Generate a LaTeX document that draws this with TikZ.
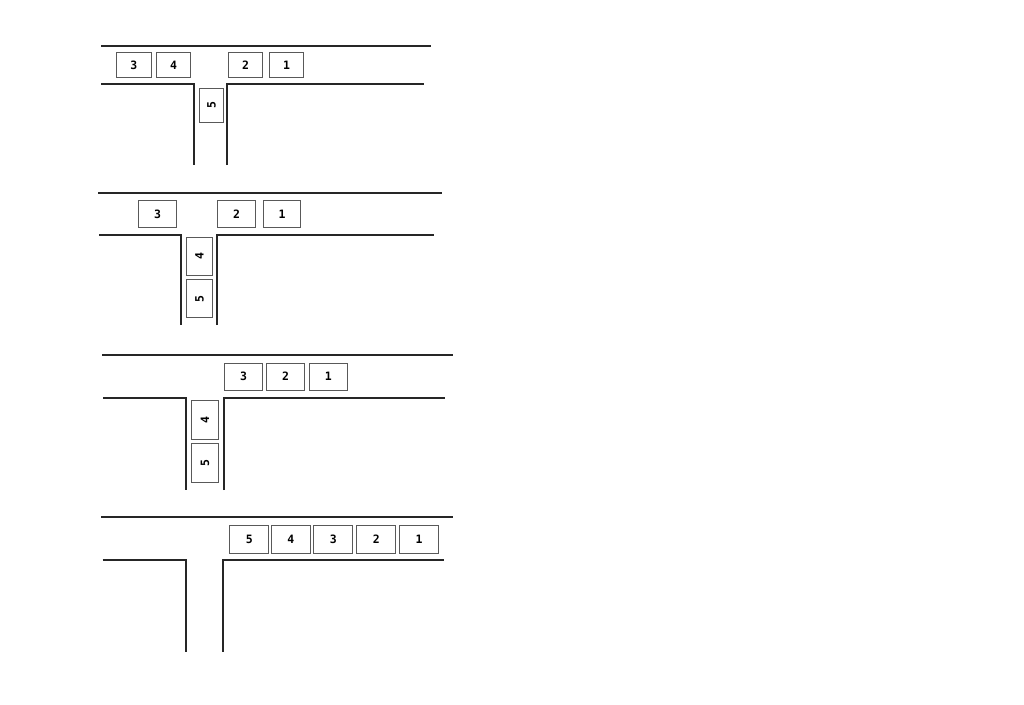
\documentclass[tikz,border=0pt]{standalone}
\usepackage{fontspec}
\setmonofont{DejaVu Sans Mono}
\begin{document}
\begin{tikzpicture}[x=1pt,y=-1pt,
  road/.style={draw=black!85,line width=1.7pt,line join=miter},
  car/.style={draw=black!65,line width=1pt,fill=white,inner sep=0pt,font=\ttfamily\bfseries\fontsize{11.5}{11.5}\selectfont},
  carA/.style={car,minimum width=34.4pt,minimum height=25pt},
  carAv/.style={car,minimum width=34.4pt,minimum height=24.4pt,rotate=90},
  carB/.style={car,minimum width=37.6pt,minimum height=26.6pt},
  carBv/.style={car,minimum width=38pt,minimum height=26.4pt,rotate=90},
  carC/.style={car,minimum width=38.5pt,minimum height=27.3pt},
  carCv/.style={car,minimum width=38.3pt,minimum height=27.4pt,rotate=90},
  carD/.style={car,minimum width=39pt,minimum height=28pt}]
\useasboundingbox (0,0) rectangle (1024,704);
% ---------- diagram 1
\draw[road] (101,46) -- (431,46);
\draw[road] (101,84) -- (194.3,84) -- (194.3,165);
\draw[road] (227,165) -- (227,84) -- (423.7,84);
\node[carA] (a3) at (133.85,65) {3};
\node[carA] (a4) at (173.65,65) {4};
\node[carA] (a2) at (245.5,65) {2};
\node[carA] (a1) at (286.65,65) {1};
\node[carAv] (a5) at (211.5,105.5) {5};
% ---------- diagram 2
\draw[road] (98.3,193) -- (442.3,193);
\draw[road] (99.3,235) -- (180.7,235) -- (180.7,325);
\draw[road] (217,325) -- (217,235) -- (434.3,235);
\node[carB] (b3) at (157.5,214) {3};
\node[carB] (b2) at (236.5,214) {2};
\node[carB] (b1) at (282.15,214) {1};
\node[carBv] (b4) at (199.5,256.3) {4};
\node[carBv] (b5) at (199.5,298.7) {5};
% ---------- diagram 3
\draw[road] (102.3,354.7) -- (452.7,354.7);
\draw[road] (103.3,397.7) -- (186,397.7) -- (186,490);
\draw[road] (223.7,490) -- (223.7,397.7) -- (445,397.7);
\node[carC] (c3) at (243.5,376.65) {3};
\node[carC] (c2) at (285.65,376.65) {2};
\node[carC] (c1) at (328.35,376.65) {1};
\node[carCv] (c4) at (205,419.85) {4};
\node[carCv] (c5) at (205,462.85) {5};
% ---------- diagram 4
\draw[road] (101,517.3) -- (452.7,517.3);
\draw[road] (102.7,560.3) -- (185.7,560.3) -- (185.7,651.7);
\draw[road] (222.7,651.7) -- (222.7,560.3) -- (444.3,560.3);
\node[carD] (d5) at (249.3,539) {5};
\node[carD] (d4) at (290.85,539) {4};
\node[carD] (d3) at (333.35,539) {3};
\node[carD] (d2) at (376.35,539) {2};
\node[carD] (d1) at (419,539) {1};
\end{tikzpicture}
\end{document}
